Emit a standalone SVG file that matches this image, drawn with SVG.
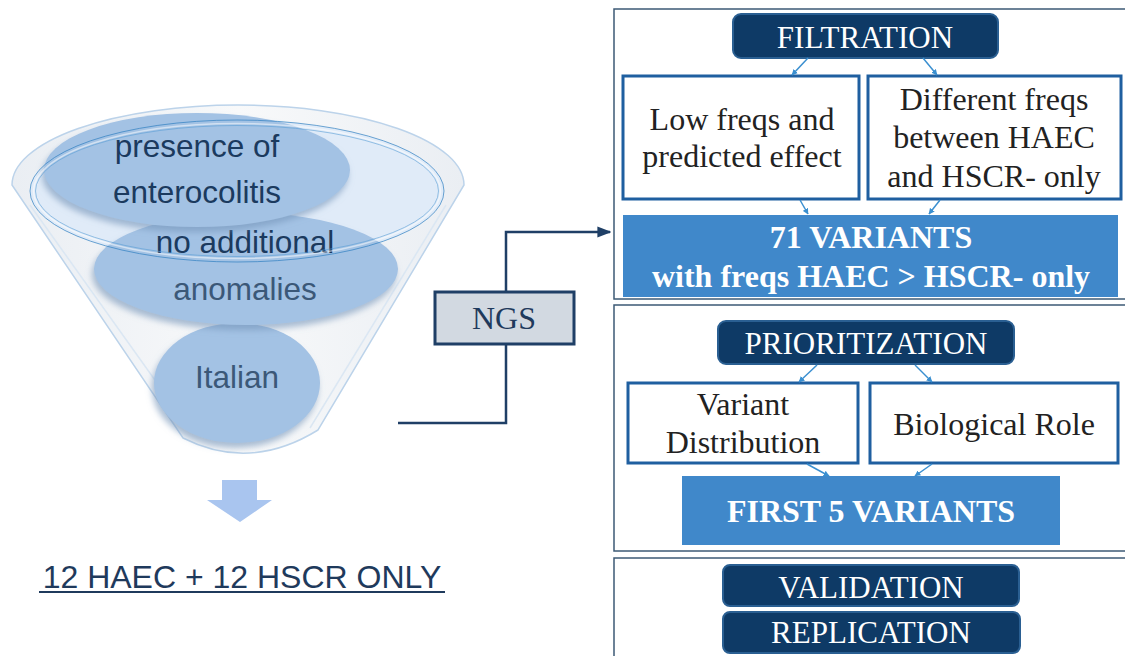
<svg xmlns="http://www.w3.org/2000/svg" width="1125" height="656" viewBox="0 0 1125 656">
<defs>
<style>
.sans{font-family:"Liberation Sans",Arial,sans-serif}
.serif{font-family:"Liberation Serif","Times New Roman",serif}
.ftxt{font-size:31.5px;fill:#1b3a5e;text-anchor:middle}
.ftxt2{font-size:31.5px;fill:#3b5878;text-anchor:middle}
.outer{fill:#ffffff;stroke:#3d5a75;stroke-width:1.5}
.pill{fill:#0e3a66;stroke:#2a5f92;stroke-width:2}
.pilltxt{font-size:31px;fill:#ffffff;text-anchor:middle}
.wbox{fill:#ffffff;stroke:#1f5fa0;stroke-width:3}
.btxt{font-size:32px;fill:#222222;text-anchor:middle}
.blue{fill:#4088ca}
.bold{font-size:32px;fill:#ffffff;font-weight:bold;text-anchor:middle}
.sm{stroke:#3a8fd0;stroke-width:1.5;fill:none;marker-end:url(#sa)}
.conn{stroke:#1f3f66;stroke-width:2.5;fill:none}
.oval{fill:#a3c2e4;filter:url(#sh)}
</style>
<marker id="sa" viewBox="0 0 10 10" refX="9" refY="5" markerWidth="6" markerHeight="6" orient="auto" markerUnits="userSpaceOnUse"><path d="M0,0 L10,5 L0,10 Z" fill="#3a8fd0"/></marker>
<marker id="ba" viewBox="0 0 10 10" refX="9" refY="5" markerWidth="14" markerHeight="14" orient="auto" markerUnits="userSpaceOnUse"><path d="M0,1 L10,5 L0,9 Z" fill="#1f3f66"/></marker>
<linearGradient id="fg" x1="0" y1="0" x2="1" y2="0">
<stop offset="0" stop-color="#eaeef3"/><stop offset="0.5" stop-color="#f8f9fa"/><stop offset="1" stop-color="#eaeef3"/>
</linearGradient>
<filter id="sh" x="-20%" y="-20%" width="140%" height="150%">
<feGaussianBlur in="SourceAlpha" stdDeviation="3"/>
<feOffset dx="-2" dy="5" result="b"/>
<feFlood flood-color="#7393b8" flood-opacity="0.6"/>
<feComposite in2="b" operator="in"/>
<feMerge><feMergeNode/><feMergeNode in="SourceGraphic"/></feMerge>
</filter>
</defs>

<g id="funnel">
<path d="M12,185 A226,80 0 0 1 464,185 L318,430 Q250,472 183,438 Z" fill="url(#fg)" stroke="#bcd3ea" stroke-width="1.5"/>
<path d="M30,205 L192,432" stroke="#dbe7f3" stroke-width="1.5" fill="none"/>
<path d="M446,205 L310,428" stroke="#dbe7f3" stroke-width="1.5" fill="none"/>
<ellipse cx="237" cy="191" rx="207" ry="71" fill="#e0ebf8"/>
</g>

<g id="italian">
<ellipse class="oval" cx="237" cy="383" rx="83" ry="60"/>
<text class="sans ftxt2" x="237" y="388">Italian</text>
</g>
<g id="anomalies">
<ellipse class="oval" cx="246" cy="269" rx="152" ry="56"/>
<text class="sans ftxt" x="245" y="253">no additional</text>
<text class="sans ftxt2" x="245" y="300">anomalies</text>
</g>
<g id="enterocolitis">
<ellipse class="oval" cx="197" cy="170" rx="153" ry="57"/>
<text class="sans ftxt" x="197" y="157">presence of</text>
<text class="sans ftxt" x="197" y="203">enterocolitis</text>
</g>
<g id="ring">
<ellipse cx="237" cy="191" rx="207" ry="71" fill="none" stroke="#2f7fc0" stroke-width="1" opacity="0.7"/>
<ellipse cx="237" cy="191" rx="203.5" ry="67.5" fill="none" stroke="#ffffff" stroke-width="1.5" opacity="0.5"/>
<ellipse cx="237" cy="191" rx="201.5" ry="65.5" fill="none" stroke="#5a9fd6" stroke-width="1" opacity="0.6"/>
</g>

<g id="down-arrow">
<polygon points="222,480 257,480 257,500 272,500 240,522 207,500 222,500" fill="#a9c5ef"/>
</g>
<g id="sample">
<text class="sans" x="242" y="588" font-size="32" fill="#1f3a5c" text-anchor="middle">12 HAEC + 12 HSCR ONLY</text>
<line x1="39" y1="592" x2="445" y2="592" stroke="#1f3a5c" stroke-width="2"/>
</g>

<g id="panel-filtration">
<rect class="outer" x="614" y="9" width="520" height="290"/>
</g>
<g id="panel-prioritization">
<rect class="outer" x="614" y="305" width="520" height="246"/>
</g>
<g id="panel-validation">
<rect class="outer" x="614" y="558" width="520" height="110"/>
</g>

<g id="filtration">
<rect class="pill" x="733" y="14" width="265" height="44" rx="8"/>
<text class="serif pilltxt" x="865" y="48">FILTRATION</text>
</g>
<g id="low-freqs">
<rect class="wbox" x="623" y="76" width="236" height="123"/>
<text class="serif btxt" x="742" y="130">Low freqs and</text>
<text class="serif btxt" x="742" y="167">predicted effect</text>
</g>
<g id="diff-freqs">
<rect class="wbox" x="868" y="76" width="253" height="123"/>
<text class="serif btxt" x="994" y="110">Different freqs</text>
<text class="serif btxt" x="994" y="148">between HAEC</text>
<text class="serif btxt" x="994" y="187">and HSCR- only</text>
</g>
<g id="variants71">
<rect class="blue" x="623" y="215" width="495" height="82"/>
<text class="serif bold" x="871" y="248">71 VARIANTS</text>
<text class="serif bold" x="871" y="287">with freqs HAEC &gt; HSCR- only</text>
</g>

<g id="prioritization">
<rect class="pill" x="718" y="321" width="296" height="43" rx="8"/>
<text class="serif pilltxt" x="866" y="354">PRIORITIZATION</text>
</g>
<g id="variant-distribution">
<rect class="wbox" x="628" y="383" width="230" height="80"/>
<text class="serif btxt" x="743" y="415">Variant</text>
<text class="serif btxt" x="743" y="453">Distribution</text>
</g>
<g id="biological-role">
<rect class="wbox" x="870" y="383" width="248" height="80"/>
<text class="serif btxt" x="994" y="435">Biological Role</text>
</g>
<g id="first5">
<rect class="blue" x="682" y="476" width="378" height="69"/>
<text class="serif bold" x="871" y="522">FIRST 5 VARIANTS</text>
</g>

<g id="validation">
<rect class="pill" x="723" y="565" width="296" height="41" rx="7"/>
<text class="serif pilltxt" x="871" y="598">VALIDATION</text>
</g>
<g id="replication">
<rect class="pill" x="723" y="612" width="297" height="41" rx="7"/>
<text class="serif pilltxt" x="871" y="643">REPLICATION</text>
</g>

<g id="ngs">
<rect x="435" y="292" width="139" height="52" fill="#d2d9e1" stroke="#1f3f66" stroke-width="3"/>
<text class="serif" x="504" y="329" font-size="32" fill="#1f3a5c" text-anchor="middle">NGS</text>
</g>

<g id="connectors">
<polyline class="conn" points="398,423 506,423 506,344"/>
<polyline class="conn" points="506,292 506,232 610,232" marker-end="url(#ba)"/>
<line class="sm" x1="808" y1="58" x2="792" y2="75"/>
<line class="sm" x1="923" y1="58" x2="937" y2="75"/>
<line class="sm" x1="800" y1="200" x2="808" y2="214"/>
<line class="sm" x1="940" y1="200" x2="929" y2="214"/>
<line class="sm" x1="817" y1="365" x2="799" y2="382"/>
<line class="sm" x1="915" y1="365" x2="932" y2="382"/>
<line class="sm" x1="807" y1="464" x2="829" y2="476"/>
<line class="sm" x1="932" y1="464" x2="915" y2="476"/>
</g>
</svg>
